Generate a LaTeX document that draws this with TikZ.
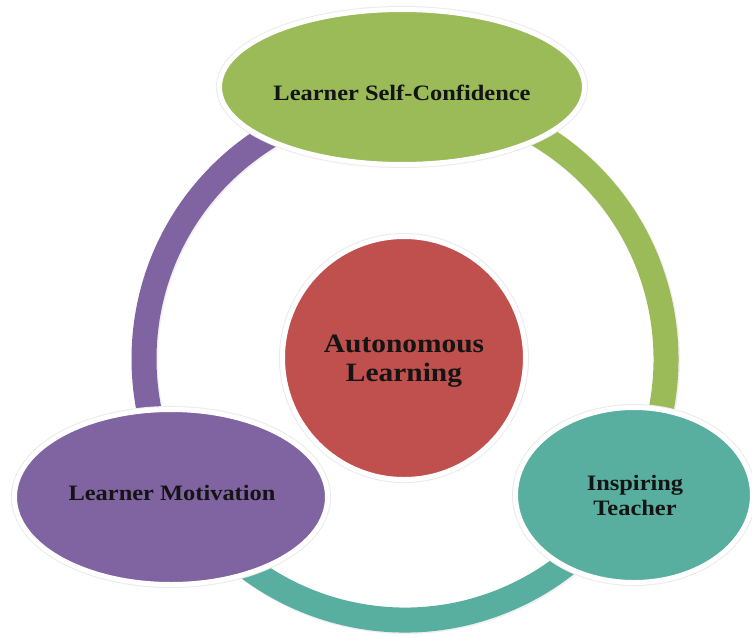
\documentclass[tikz,border=0pt]{standalone}
\usepackage{fontspec}
\setmainfont{Liberation Serif}
\usepackage{graphicx}
\usetikzlibrary{shapes.geometric}
\definecolor{cgreen}{HTML}{9BBB59}
\definecolor{cpurple}{HTML}{8064A2}
\definecolor{cteal}{HTML}{58AFA0}
\definecolor{cred}{HTML}{C0504D}
\definecolor{ctext}{HTML}{141414}
\newcommand{\lbltxt}[3]{\makebox[0pt]{\scalebox{1.11}[1]{\fontsize{#1}{#2}\selectfont\bfseries\begin{tabular}{@{}c@{}}#3\end{tabular}}}}
\begin{document}
\begin{tikzpicture}[x=1pt,y=-1pt,
  blob/.style={draw=white, line width=5pt, inner sep=0pt, outer sep=0pt,
    preaction={draw=black!8, line width=7pt}},
  ellblob/.style={blob, ellipse},
  circblob/.style={blob, circle},
  ringarc/.style={line width=25pt},
  txt/.style={inner sep=0pt, outer sep=0pt, text=ctext}]
\useasboundingbox (0,0) rectangle (752,637);
\fill[white] (0,0) rectangle (752,637);
\coordinate (rc) at (405,359);
% ring shadow
\draw[ringarc, black!6, line width=26pt] ([shift={(1pt,-1pt)}]rc) circle[radius=261];
% ring segments
\draw[ringarc, cpurple] ([shift={(-85:261)}]rc) arc[start angle=-85, end angle=-215, radius=261];
\draw[ringarc, cteal] ([shift={(-205:261)}]rc) arc[start angle=-205, end angle=-335, radius=261];
\draw[ringarc, cgreen] ([shift={(-325:261)}]rc) arc[start angle=-325, end angle=-455, radius=261];
% shapes
\node[ellblob, fill=cgreen, minimum width=365pt, minimum height=155pt] (conf) at (402,87) {};
\node[ellblob, fill=cpurple, minimum width=313pt, minimum height=175pt] (mot) at (171,497) {};
\node[ellblob, fill=cteal, minimum width=237pt, minimum height=175pt] (teach) at (634,495) {};
\node[circblob, fill=cred, minimum size=243pt] (auto) at (404,358) {};
% texts
\node[txt] (confT) at (402,95) {\lbltxt{22}{25}{Learner Self-Confidence}};
\node[txt] (motT) at (172,495) {\lbltxt{22}{25}{Learner Motivation}};
\node[txt] (teachT) at (635,497.5) {\lbltxt{22}{25}{Inspiring\\Teacher}};
\node[txt] (autoT) at (404,361.5) {\lbltxt{26.5}{29}{Autonomous\\Learning}};
\end{tikzpicture}
\end{document}
